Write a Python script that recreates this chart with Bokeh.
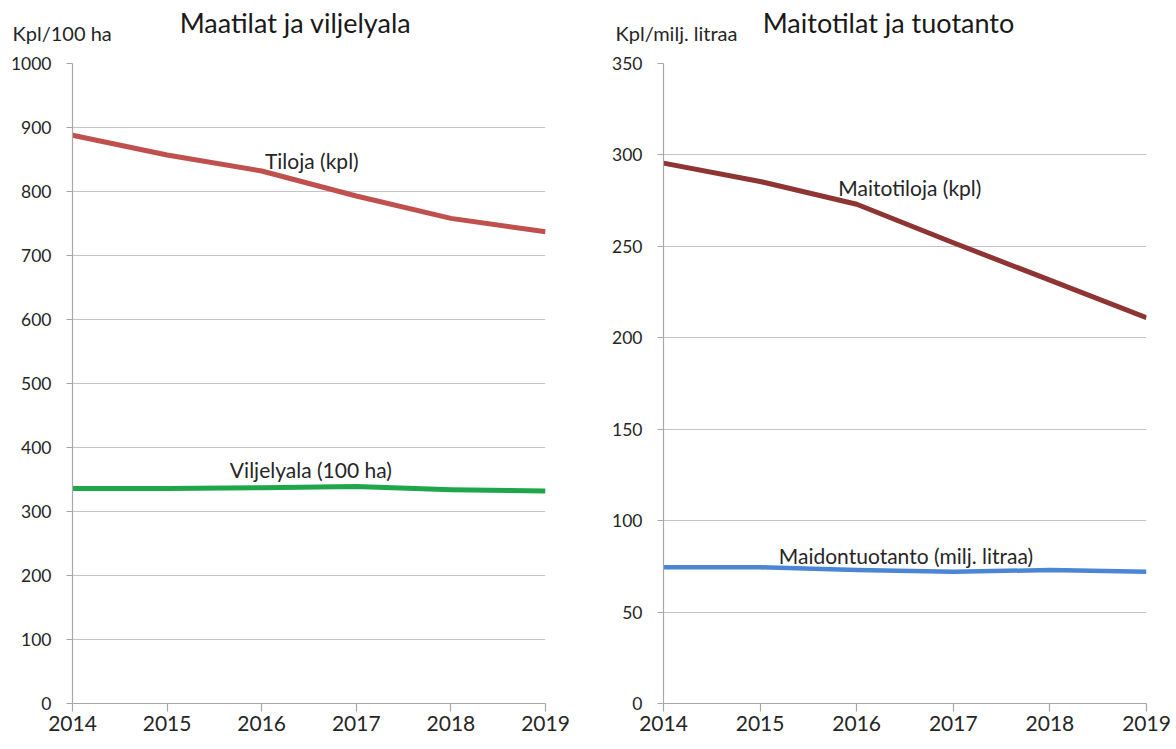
from bokeh.plotting import figure
from bokeh.layouts import row, column
from bokeh.models import Range1d, FixedTicker
from bokeh.core.properties import value
from bokeh.embed import file_html
from bokeh.resources import INLINE

# ---- data ----
years = [2014, 2015, 2016, 2017, 2018, 2019]
tiloja = [888, 857, 832, 793, 758, 737]            # Tiloja (kpl)
viljelyala = [336, 336, 337, 339, 334, 332]        # Viljelyala (100 ha)
maitotiloja = [295.5, 285.5, 273, 252, 231.5, 211]  # Maitotiloja (kpl)
maidontuotanto = [74.5, 74.5, 73, 72, 73, 72]      # Maidontuotanto (milj. litraa)

left_yticks = [0, 100, 200, 300, 400, 500, 600, 700, 800, 900, 1000]
right_yticks = [0, 50, 100, 150, 200, 250, 300, 350]

titles = ["Maatilat ja viljelyala", "Maitotilat ja tuotanto"]
units = ["Kpl/100 ha", "Kpl/milj. litraa"]

FONT = "Lato"
TXT = "#262626"
W1, W2 = 596, 578
HEAD_H = 53
PLOT_H = 687

# ---- header strip (titles + unit captions), pixel coordinates ----
head = figure(width=W1 + W2, height=HEAD_H, x_range=Range1d(0, W1 + W2),
              y_range=Range1d(0, HEAD_H), output_backend="svg",
              toolbar_location=None, x_axis_location=None, y_axis_location=None,
              min_border=0, min_border_left=0, min_border_right=0,
              min_border_top=0, min_border_bottom=0)
head.outline_line_color = None
head.xgrid.visible = False
head.ygrid.visible = False
head.text(x=[295, 888], y=[31, 31], text=titles, text_font=value(FONT),
          text_font_size="27px", text_align="center", text_baseline="alphabetic",
          text_color="#1a1a1a")
head.text(x=[12, 615], y=[21, 21], text=units, text_font=value(FONT),
          text_font_size="20px", text_align="left", text_baseline="alphabetic",
          text_color=TXT)


def make(width, bl, br, ymax, yticks):
    p = figure(width=width, height=PLOT_H,
               x_range=Range1d(2014, 2019), y_range=Range1d(0, ymax),
               output_backend="svg", toolbar_location=None,
               min_border_left=bl, min_border_right=br,
               min_border_top=10, min_border_bottom=37,
               background_fill_color="white", border_fill_color="white")
    p.outline_line_color = None

    p.xaxis.ticker = FixedTicker(ticks=years)
    p.yaxis.ticker = FixedTicker(ticks=yticks)
    p.xgrid.visible = False
    p.ygrid.ticker = FixedTicker(ticks=yticks)
    p.ygrid.grid_line_color = "#C4C4C4"
    p.ygrid.grid_line_width = 1.2

    for ax in (p.xaxis[0], p.yaxis[0]):
        ax.axis_line_color = "#A8A8A8"
        ax.axis_line_width = 1.2
        ax.major_tick_line_color = "#A8A8A8"
        ax.major_tick_line_width = 1.2
        ax.minor_tick_line_color = None
        ax.major_tick_in = 0
        ax.major_label_text_font = FONT
        ax.major_label_text_color = TXT
    p.xaxis.major_tick_out = 8
    p.xaxis.major_label_standoff = 4
    p.xaxis.major_label_text_font_size = "21px"
    p.yaxis.major_tick_out = 6
    p.yaxis.major_label_standoff = 15
    p.yaxis.major_label_text_font_size = "17.5px"
    return p


p1 = make(W1, 72, 51, 1000, left_yticks)
p1.line(years, tiloja, line_color="#C0504D", line_width=5, line_join="round")
p1.line(years, viljelyala, line_color="#1FA64A", line_width=5, line_join="round")
p1.text(x=[2016.53], y=[849], text=["Tiloja (kpl)"], text_font=value(FONT),
        text_font_size="21px", text_align="center", text_baseline="middle",
        text_color=TXT)
p1.text(x=[2016.52], y=[366], text=["Viljelyala (100 ha)"], text_font=value(FONT),
        text_font_size="21px", text_align="center", text_baseline="middle",
        text_color=TXT)

p2 = make(W2, 67, 28, 350, right_yticks)
p2.line(years, maitotiloja, line_color="#8E3432", line_width=5, line_join="round")
p2.line(years, maidontuotanto, line_color="#4A86D4", line_width=4.5, line_join="round")
p2.text(x=[2016.55], y=[282], text=["Maitotiloja (kpl)"], text_font=value(FONT),
        text_font_size="21px", text_align="center", text_baseline="middle",
        text_color=TXT)
p2.text(x=[2016.51], y=[81], text=["Maidontuotanto (milj. litraa)"],
        text_font=value(FONT), text_font_size="21px", text_align="center",
        text_baseline="middle", text_color=TXT)

layout = column(head, row(p1, p2))
open("out.html", "w").write(file_html(layout, INLINE))
